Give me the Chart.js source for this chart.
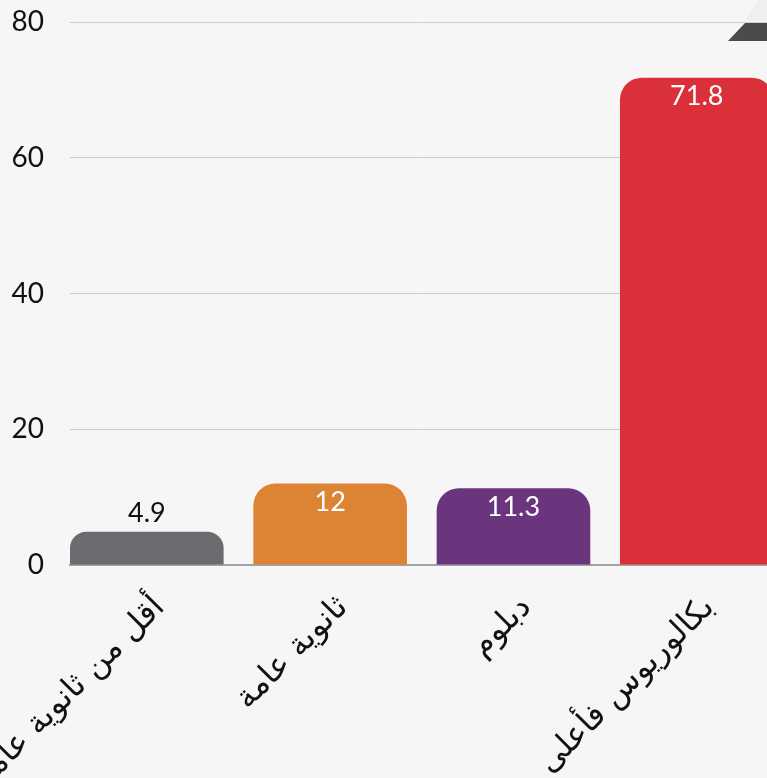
<!DOCTYPE html>
<html>
<head>
<meta charset="utf-8">
<script src="https://cdn.jsdelivr.net/npm/chart.js@4.4.1/dist/chart.umd.min.js"></script>
<style>
  html, body { margin: 0; padding: 0; background: #f6f6f6; overflow: hidden; }
  #wrap { width: 767px; height: 778px; position: relative; }
  canvas { display: block; }
</style>
</head>
<body>
<div id="wrap"><canvas id="c" width="767" height="778"></canvas></div>
<script>
// ---- data ----
const categories = ['أقل من ثانوية عامة', 'ثانوية عامة', 'دبلوم', 'بكالوريوس فأعلى'];
const values = [4.9, 12, 11.3, 71.8];
const barColors = ['#6d6b70', '#dd8434', '#6b357e', '#da3039'];
const yTicks = [0, 20, 40, 60, 80];

const NUM_FONT = 'Lato, "DejaVu Sans", sans-serif';
const AR_FONT = '"DejaVu Sans", sans-serif';

const valueLabels = {
  id: 'valueLabels',
  afterDatasetsDraw(chart) {
    const ctx = chart.ctx;
    const meta = chart.getDatasetMeta(0);
    ctx.save();
    ctx.font = '27px ' + NUM_FONT;
    ctx.textAlign = 'center';
    ctx.textBaseline = 'middle';
    meta.data.forEach((bar, i) => {
      const h = bar.base - bar.y;
      const txt = String(values[i]);
      if (h < 45) {
        ctx.fillStyle = '#111111';
        ctx.fillText(txt, bar.x, bar.y - 18);
      } else {
        ctx.fillStyle = '#ffffff';
        ctx.fillText(txt, bar.x, bar.y + 19);
      }
    });
    ctx.restore();
  }
};

const corner = {
  id: 'corner',
  afterDraw(chart) {
    const ctx = chart.ctx;
    const top = chart.chartArea.top;
    const W = chart.width;
    ctx.save();
    ctx.fillStyle = '#efefef';
    ctx.beginPath();
    ctx.moveTo(W, 0);
    ctx.lineTo(W, top - 1);
    ctx.lineTo(W - 22, top - 1);
    ctx.lineTo(W - 8, 0);
    ctx.closePath();
    ctx.fill();
    ctx.fillStyle = '#4b4b4b';
    ctx.beginPath();
    ctx.moveTo(W - 22, top + 1);
    ctx.lineTo(W, top + 1);
    ctx.lineTo(W, top + 19);
    ctx.lineTo(W - 39, top + 19);
    ctx.closePath();
    ctx.fill();
    ctx.restore();
  }
};

new Chart(document.getElementById('c'), {
  type: 'bar',
  data: {
    datasets: [{
      data: categories.map((c, i) => ({ x: i, y: values[i] })),
      backgroundColor: barColors,
      borderRadius: { topLeft: 22, topRight: 22, bottomLeft: 0, bottomRight: 0 },
      borderSkipped: 'bottom',
      categoryPercentage: 1,
      barPercentage: 0.838
    }]
  },
  options: {
    responsive: false,
    animation: false,
    layout: { padding: { top: 22, left: 0, right: 0, bottom: 0 } },
    plugins: { legend: { display: false }, tooltip: { enabled: false } },
    scales: {
      x: {
        type: 'linear',
        offset: false,
        min: -0.419,
        max: 3.383,
        grid: { display: false, offset: false },
        border: { display: true, color: '#a3a3a3', width: 2 },
        afterBuildTicks(axis) { axis.ticks = categories.map((c, i) => ({ value: i })); },
        afterFit(axis) { axis.paddingLeft = 0; axis.paddingRight = 0; axis.height = 213; },
        ticks: {
          autoSkip: false,
          minRotation: 45,
          maxRotation: 45,
          padding: 16,
          labelOffset: 13,
          color: '#111111',
          font: { family: AR_FONT, size: 32 },
          callback: (v) => categories[Math.round(v)] ?? ''
        }
      },
      y: {
        min: 0,
        max: 80,
        afterBuildTicks(axis) { axis.ticks = yTicks.map(v => ({ value: v })); },
        afterFit(axis) { axis.width = 70; axis.paddingTop = 0; axis.paddingBottom = 0; },
        grid: { color: '#cdcdcd', lineWidth: 1, drawTicks: false },
        border: { display: false },
        ticks: {
          padding: 26,
          color: '#111111',
          font: { family: NUM_FONT, size: 28 }
        }
      }
    }
  },
  plugins: [valueLabels, corner]
});
</script>
</body>
</html>
